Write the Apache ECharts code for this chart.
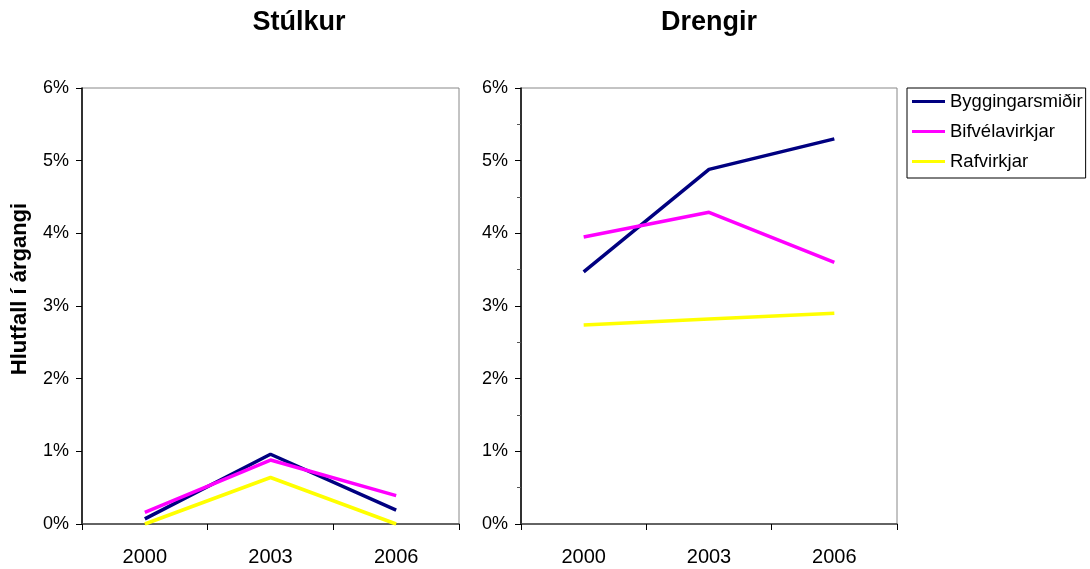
<!DOCTYPE html>
<html>
<head>
<meta charset="utf-8">
<script src="https://cdn.jsdelivr.net/npm/echarts@6/dist/echarts.min.js"></script>
<style>html,body{margin:0;padding:0;background:#fff}#c{width:1090px;height:569px}</style>
</head>
<body>
<div id="c"></div>
<script>
const years = ['2000', '2003', '2006'];
const seriesNames = ['Byggingarsmiðir', 'Bifvélavirkjar', 'Rafvirkjar'];
const colors = ['#000080', '#FF00FF', '#FFFF00'];
// Stúlkur (girls)
const girlsBygg = [0.07, 0.96, 0.19];
const girlsBifv = [0.16, 0.88, 0.39];
const girlsRaf = [0.0, 0.64, 0.0];
// Drengir (boys)
const boysBygg = [3.47, 4.88, 5.30];
const boysBifv = [3.95, 4.29, 3.60];
const boysRaf = [2.74, 2.82, 2.90];
const yTicks = [0, 1, 2, 3, 4, 5, 6];
const yTitle = 'Hlutfall í árgangi';

const font = 'Liberation Sans, Arial, sans-serif';
const chart = echarts.init(document.getElementById('c'));

function xAxis(i) {
  return {
    type: 'category', gridIndex: i, data: years, boundaryGap: true,
    axisLine: { lineStyle: { color: '#444', width: 1.5 } },
    axisTick: { show: true, length: 6, lineStyle: { color: '#000' } },
    axisLabel: { color: '#000', fontSize: 20, fontFamily: font, margin: 23 }
  };
}
function yAxis(i, minor) {
  return {
    type: 'value', gridIndex: i, min: yTicks[0], max: yTicks[yTicks.length - 1], interval: 1,
    axisLine: { show: true, lineStyle: { color: '#000', width: 1.5 } },
    axisTick: { show: true, length: 6, lineStyle: { color: '#000' } },
    minorTick: { show: minor, splitNumber: 2, length: 4, lineStyle: { color: '#555' } },
    splitLine: { show: false },
    axisLabel: { color: '#000', fontSize: 18, fontFamily: font, margin: 13, formatter: '{value}%' }
  };
}
function line(name, data, color, g) {
  return {
    name: name, type: 'line', data: data, xAxisIndex: g, yAxisIndex: g,
    symbol: 'none', lineStyle: { color: color, width: 3.5 }, itemStyle: { color: color },
    animation: false
  };
}

chart.setOption({
  backgroundColor: '#fff',
  title: [
    { text: 'Stúlkur', left: 294, top: 4, textAlign: 'center',
      textStyle: { fontSize: 27, fontWeight: 'bold', fontFamily: font, color: '#000' } },
    { text: 'Drengir', left: 704, top: 4, textAlign: 'center',
      textStyle: { fontSize: 27, fontWeight: 'bold', fontFamily: font, color: '#000' } }
  ],
  graphic: [{
    type: 'text', x: 20, y: 289, rotation: Math.PI / 2,
    style: { text: yTitle, fill: '#000', font: 'bold 22px ' + font, align: 'center', verticalAlign: 'middle' }
  }],
  legend: {
    orient: 'vertical', left: 907, top: 88,
    data: seriesNames,
    icon: 'rect', itemWidth: 33, itemHeight: 3, itemGap: 11,
    padding: [4, 3, 7, 5],
    borderColor: '#000', borderWidth: 1,
    textStyle: { fontSize: 18.5, fontFamily: font, color: '#000' }
  },
  grid: [
    { left: 82, top: 88, width: 377, height: 436, show: true, borderColor: '#888', borderWidth: 1 },
    { left: 521, top: 88, width: 376, height: 436, show: true, borderColor: '#888', borderWidth: 1 }
  ],
  xAxis: [xAxis(0), xAxis(1)],
  yAxis: [yAxis(0, false), yAxis(1, true)],
  series: [
    line(seriesNames[0], girlsBygg, colors[0], 0),
    line(seriesNames[1], girlsBifv, colors[1], 0),
    line(seriesNames[2], girlsRaf, colors[2], 0),
    line(seriesNames[0], boysBygg, colors[0], 1),
    line(seriesNames[1], boysBifv, colors[1], 1),
    line(seriesNames[2], boysRaf, colors[2], 1)
  ]
});
</script>
</body>
</html>
